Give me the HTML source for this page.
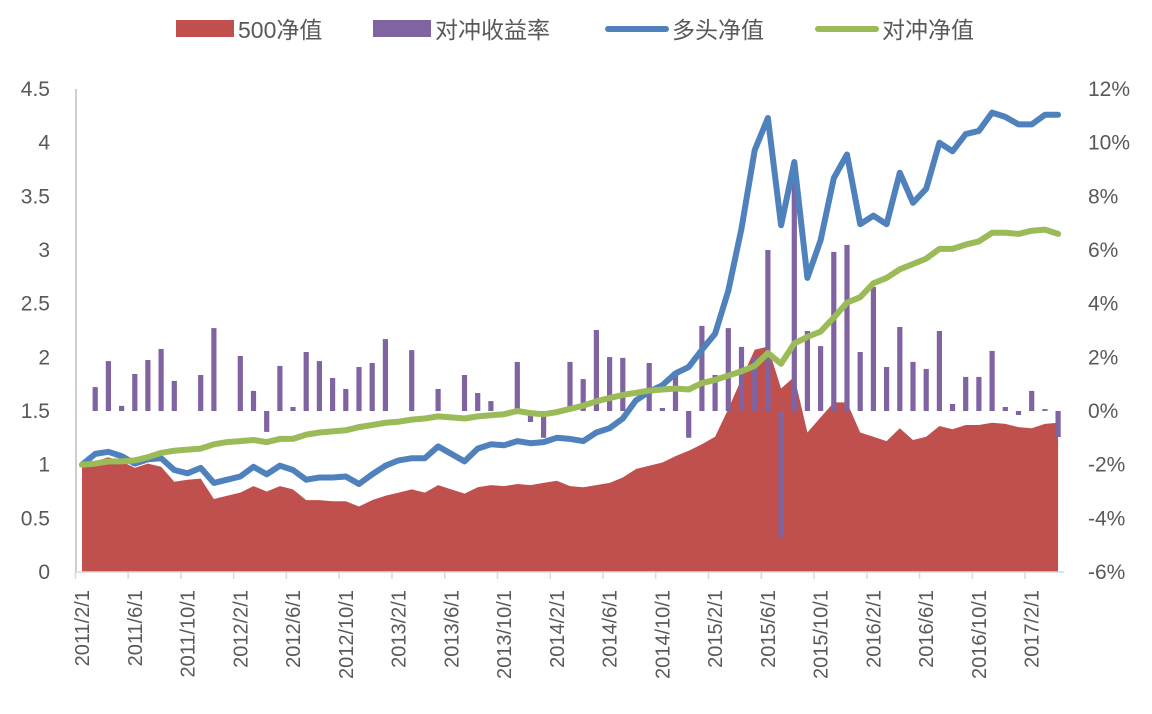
<!DOCTYPE html>
<html><head><meta charset="utf-8">
<style>
html,body{margin:0;padding:0;background:#fff;}
svg{display:block;font-family:"Liberation Sans","Noto Sans CJK SC",sans-serif;}
</style></head>
<body>
<svg id="chart" width="1152" height="714" viewBox="0 0 1152 714" xmlns="http://www.w3.org/2000/svg">
  <g id="legend">
    <g>
      <rect x="176" y="20" width="58" height="17" fill="#C0504D"/>
      <text x="238" y="38" font-size="23" fill="#595959">500净值</text>
    </g>
    <g>
      <rect x="373" y="20" width="58" height="17" fill="#8064A2"/>
      <text x="435" y="38" font-size="23" fill="#595959">对冲收益率</text>
    </g>
    <g>
      <line x1="608" y1="29" x2="666" y2="29" stroke="#4F81BD" stroke-width="6" stroke-linecap="round"/>
      <text x="672" y="38" font-size="23" fill="#595959">多头净值</text>
    </g>
    <g>
      <line x1="818" y1="29" x2="876" y2="29" stroke="#9BBB59" stroke-width="6" stroke-linecap="round"/>
      <text x="882" y="38" font-size="23" fill="#595959">对冲净值</text>
    </g>
  </g>
  <g id="yLeft"></g>
  <g id="yRight"></g>
  <g id="area"></g>
  <g id="bars"></g>
  <g id="lines"></g>
  <g id="xAxis"></g>
</svg>
<script>
const idx500 = [0.98,1.03,1.07,1.03,0.97,1.01,0.98,0.84,0.86,0.87,0.68,0.71,0.74,0.80,0.75,0.80,0.77,0.67,0.67,0.66,0.66,0.61,0.67,0.71,0.74,0.77,0.74,0.81,0.77,0.73,0.79,0.81,0.80,0.82,0.81,0.83,0.85,0.80,0.79,0.81,0.83,0.88,0.96,0.99,1.02,1.08,1.13,1.19,1.26,1.52,1.80,2.07,2.10,1.71,1.82,1.30,1.44,1.58,1.58,1.30,1.26,1.22,1.34,1.23,1.26,1.36,1.33,1.37,1.37,1.39,1.38,1.35,1.34,1.38,1.39];
const hedgeRet = [0,0.89,1.86,0.19,1.38,1.90,2.31,1.12,0,1.34,3.09,0,2.05,0.75,-0.78,1.68,0.15,2.2,1.86,1.23,0.82,1.64,1.79,2.68,0,2.27,0,0.82,0,1.34,0.67,0.37,0,1.83,-0.41,-1.0,0,1.83,1.19,3.02,2.01,1.98,0,1.79,0.11,1.34,-1.0,3.17,1.34,3.09,2.39,2.0,6.0,-4.73,8.7,2.98,2.42,5.93,6.19,2.2,4.62,1.64,3.13,1.83,1.57,2.98,0.26,1.27,1.27,2.24,0.15,-0.15,0.75,0.07,-0.97];
const longNav = [1.00,1.10,1.12,1.08,1.01,1.05,1.06,0.95,0.92,0.97,0.83,0.86,0.89,0.98,0.91,0.99,0.95,0.86,0.88,0.88,0.89,0.82,0.91,0.99,1.04,1.06,1.06,1.17,1.10,1.03,1.15,1.19,1.18,1.22,1.20,1.21,1.25,1.24,1.22,1.30,1.34,1.43,1.60,1.68,1.74,1.85,1.91,2.07,2.22,2.62,3.20,3.93,4.23,3.23,3.82,2.74,3.09,3.67,3.89,3.24,3.32,3.24,3.72,3.44,3.57,4.00,3.92,4.08,4.11,4.28,4.24,4.17,4.17,4.26,4.26];
const hedgeNav = [1.00,1.01,1.03,1.03,1.04,1.07,1.11,1.13,1.14,1.15,1.19,1.21,1.22,1.23,1.21,1.24,1.24,1.28,1.30,1.31,1.32,1.35,1.37,1.39,1.40,1.42,1.43,1.45,1.44,1.43,1.45,1.46,1.47,1.50,1.48,1.47,1.49,1.52,1.55,1.59,1.62,1.65,1.67,1.69,1.70,1.71,1.70,1.76,1.79,1.83,1.87,1.92,2.04,1.94,2.13,2.19,2.24,2.37,2.51,2.56,2.69,2.74,2.82,2.87,2.92,3.01,3.01,3.05,3.08,3.16,3.16,3.15,3.18,3.19,3.15];
const leftTicks = [0,0.5,1,1.5,2,2.5,3,3.5,4,4.5];
const leftTickLabels = ["0","0.5","1","1.5","2","2.5","3","3.5","4","4.5"];
const rightTicks = [-6,-4,-2,0,2,4,6,8,10,12];
const rightTickLabels = ["-6%","-4%","-2%","0%","2%","4%","6%","8%","10%","12%"];
const startYear = 2011, startMonth = 2;

const NS = "http://www.w3.org/2000/svg";
const X0 = 82, DX = 13.19, TOP = 89, BOT = 572;
const xS = i => X0 + i * DX;
const yL = v => BOT - (v - 0) / 4.5 * (BOT - TOP);
const yR = v => BOT - (v + 6) / 18 * (BOT - TOP);
function mk(tag, attrs, parent) {
  const e = document.createElementNS(NS, tag);
  for (const k in attrs) e.setAttribute(k, attrs[k]);
  parent.appendChild(e);
  return e;
}
const n = idx500.length;

const gL = document.getElementById('yLeft');
leftTicks.forEach((v, k) => {
  const t = mk('text', {x: 50, y: yL(v) + 7, 'font-size': 21, fill: '#595959', 'text-anchor': 'end'}, gL);
  
  
  t.textContent = leftTickLabels[k];
});
const axL = mk('line', {x1: 76, y1: TOP, x2: 76, y2: BOT, stroke: '#BFBFBF', 'stroke-width': 1.5}, gL);



const gR = document.getElementById('yRight');
rightTicks.forEach((v, k) => {
  const t = mk('text', {x: 1088, y: yR(v) + 7, 'font-size': 21, fill: '#595959', 'text-anchor': 'start'}, gR);
  
  
  t.textContent = rightTickLabels[k];
});

const gA = document.getElementById('area');
let d = `M${xS(0)},${BOT}`;
idx500.forEach((v, i) => { d += ` L${xS(i).toFixed(1)},${yL(v).toFixed(1)}`; });
d += ` L${xS(n - 1)},${BOT} Z`;
const ap = mk('path', {d: d, fill: '#C0504D'}, gA);



const gB = document.getElementById('bars');
const y0 = yR(0);
hedgeRet.forEach((v, i) => {
  if (v === 0) return;
  const y = yR(v);
  const r = mk('rect', {x: (xS(i) - 2.6).toFixed(1), y: Math.min(y, y0).toFixed(1), width: 5.2, height: Math.abs(y - y0).toFixed(1), fill: '#8064A2'}, gB);
  
  
});

const gLn = document.getElementById('lines');
function line(arr, color, name) {
  const pts = arr.map((v, i) => `${xS(i).toFixed(1)},${yL(v).toFixed(1)}`).join(' ');
  const p = mk('polyline', {points: pts, fill: 'none', stroke: color, 'stroke-width': 6, 'stroke-linejoin': 'round', 'stroke-linecap': 'round'}, gLn);
  
  
}
line(longNav, '#4F81BD', 'line-long-nav');
line(hedgeNav, '#9BBB59', 'line-hedge-nav');

const gX = document.getElementById('xAxis');
const ax = mk('line', {x1: 76, y1: BOT, x2: xS(n - 1) + 6, y2: BOT, stroke: '#D9D9D9', 'stroke-width': 1.5}, gX);


for (let i = 0; i < n; i += 4) {
  const tx = xS(i) - DX / 2;
  const tk = mk('line', {x1: tx, y1: BOT, x2: tx, y2: BOT + 7, stroke: '#D9D9D9', 'stroke-width': 1.5}, gX);
  
  
  const m = startMonth - 1 + i;
  const label = `${startYear + Math.floor(m / 12)}/${(m % 12) + 1}/1`;
  const lx = xS(i) + 7, ly = 590;
  const t = mk('text', {x: lx, y: ly, 'font-size': 20, fill: '#595959', 'text-anchor': 'end', transform: `rotate(-90 ${lx} ${ly})`}, gX);
  
  
  t.textContent = label;
}
</script>
</body></html>
